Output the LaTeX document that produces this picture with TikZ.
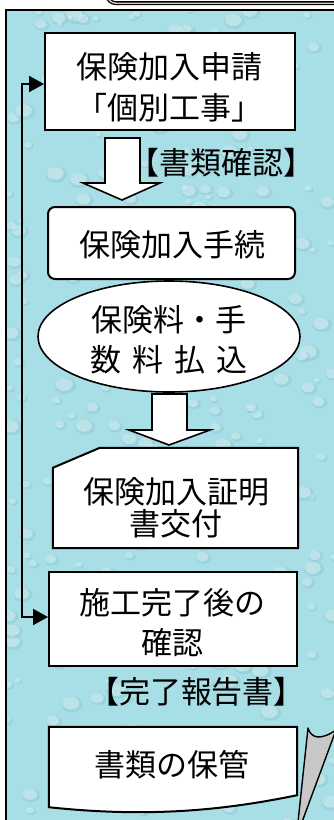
\documentclass[tikz,border=0pt]{standalone}
\usepackage{fontspec}
\newfontfamily\jp{Noto Sans CJK JP}
\usetikzlibrary{shapes.geometric,arrows.meta,calc}
\definecolor{panel}{HTML}{A8DEE6}
\definecolor{paneldark}{HTML}{7FC3CF}
\definecolor{framepink}{HTML}{E8BCBE}
\definecolor{curl}{HTML}{C8C8C8}
\begin{document}
\begin{tikzpicture}[x=1pt,y=-1pt,
  boxshape/.style={draw=black,line width=2pt,fill=white,inner sep=0pt},
  txt/.style={font=\jp\fontsize{31}{41}\selectfont,align=center,inner sep=0pt,text=black},
  blockarrow/.style={draw=black,line width=1.6pt,fill=white,line join=miter},
  conn/.style={line width=2pt,{Triangle[length=15pt,width=16pt]}-{Triangle[length=15pt,width=16pt]}}]
\useasboundingbox (0,0) rectangle (334,820);
% top frame
\draw[draw=black,line width=1.3pt,double=framepink,double distance=1.4pt,rounded corners=9pt]
  (107,-40) rectangle (360,3.2);
% panel
\fill[panel] (6,10) rectangle (345,830);
\begin{scope}
  \clip (6,10) rectangle (345,830);
  \pgfmathsetseed{11}
  \foreach \i in {1,...,260}{
    \pgfmathsetmacro\xx{6+rnd*330}
    \pgfmathsetmacro\yy{10+rnd*812}
    \pgfmathsetmacro\rr{3+rnd*8}
    \fill[paneldark,opacity=0.35] (\xx+1.2,\yy+1.2) ellipse [x radius=\rr, y radius=0.75*\rr];
    \fill[white,opacity=0.35] (\xx,\yy) ellipse [x radius=0.8*\rr, y radius=0.6*\rr];
  }
\end{scope}
\draw[line width=2pt] (6,830) -- (6,10) -- (345,10);
% boxes
\node[boxshape,minimum width=250pt,minimum height=97pt] (b1) at (170,81.5) {};
\node[boxshape,rounded corners=7pt,minimum width=247pt,minimum height=72pt] (b2) at (171.5,243) {};
\node[boxshape,ellipse,line width=1.6pt,minimum width=262pt,minimum height=111pt] (b3) at (169,336.5) {};
\node[inner sep=0pt,minimum width=245pt,minimum height=100pt] (b4) at (175.5,498) {};
\draw[boxshape] (b4.south west) -- ($(b4.north west)+(0,20)$) -- ($(b4.north west)+(47,0)$)
  -- (b4.north east) -- (b4.south east) -- cycle;
\node[boxshape,minimum width=248pt,minimum height=94pt] (b5) at (173,619) {};
\node[inner sep=0pt,minimum width=248pt,minimum height=80pt] (b6) at (173,767) {};
\draw[boxshape] (b6.south west) -- (b6.north west) -- (b6.north east) -- ($(b6.south east)+(0,-12)$)
  .. controls (225,810) and (150,818) .. (b6.south west) -- cycle;
% texts
\node[txt,font=\jp\fontsize{31}{41}\selectfont] (t1) at (169,87.5) {保険加入申請\\「個別工事」};
\node[txt] (t2) at (172,245) {保険加入手続};
\node[txt,font=\jp\fontsize{31}{40}\selectfont] (t3) at (169,340) {保険料・手\\数\hspace{11pt}料\hspace{11pt}払\hspace{11pt}込};
\node[txt,font=\jp\fontsize{31}{32}\selectfont] (t4) at (176,507.5) {保険加入証明\\書交付};
\node[txt,font=\jp\fontsize{31}{40}\selectfont] (t5) at (172.5,623) {施工完了後の\\確認};
\node[txt] (t6) at (171.5,765) {書類の保管};
\node[txt] (l1) at (221.5,163) {【書類確認】};
\node[txt] (l2) at (196.5,692) {【完了報告書】};
% block arrows
\draw[blockarrow] (105,138) -- (140,138) -- (140,183) -- (160,183) -- (122,200) -- (83,183) -- (105,183) -- cycle;
\draw[blockarrow] (152,394) -- (187,394) -- (187,430) -- (210,430) -- (169,445) -- (129,430) -- (152,430) -- cycle;
% left connector
\coordinate (L1) at (22,84);
\coordinate (L2) at (22,617);
\draw[conn] (b1.west |- L1) -- (L1) -- (L2) -- (b5.west |- L2);
% page curl
\draw[fill=curl,line width=1.4pt,line join=round] (308,728) .. controls (311,738) and (320,741) .. (336,730)
  -- (302,822) -- (298,822) -- cycle;
\end{tikzpicture}
\end{document}
